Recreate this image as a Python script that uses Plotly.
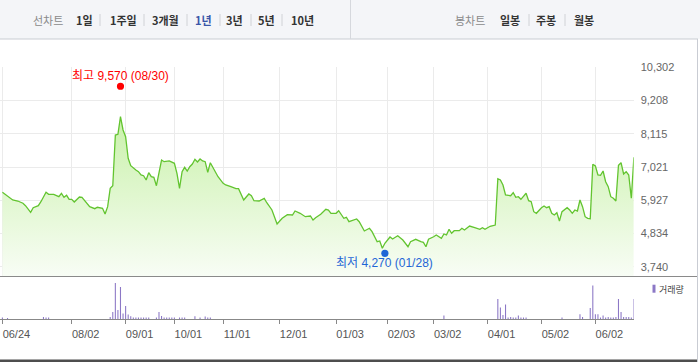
import plotly.graph_objects as go

# ---------------- data ----------------
# trading-day index (0 = 2021-06-24) and closing price vertices
price_idx = [0, 2, 4, 6, 8, 9, 11, 12, 14, 15, 17, 18, 20, 22, 23, 24, 25, 26, 27, 28, 30, 31, 34, 36, 37, 39, 40, 41,
             42, 43, 44, 45, 46, 47, 48, 49, 50, 52, 53, 54, 55, 56, 57, 58, 59, 60, 62, 63, 65, 67, 68, 69, 70, 71,
             72, 73, 74, 75, 76, 77, 78, 79, 80, 81, 83, 84, 86, 87, 89, 91, 92, 94, 96, 97, 98, 100, 102, 103, 105,
             107, 109, 111, 113, 114, 116, 118, 120, 121, 122, 124, 126, 127, 128, 130, 131, 133, 134, 135, 138, 139,
             141, 143, 144, 146, 147, 148, 149, 151, 152, 154, 156, 158, 159, 161, 163, 164, 165, 166, 168, 169, 171,
             172, 173, 174, 175, 176, 178, 179, 180, 182, 184, 186, 187, 188, 190, 192, 193, 194, 195, 196, 198, 199,
             200, 201, 202, 204, 205, 206, 207, 208, 210, 211, 212, 213, 214, 215, 216, 217, 218, 220, 221, 222, 223,
             224, 225, 226, 227, 228, 229, 230, 231, 232, 233, 234, 235, 236, 237, 238, 239, 240, 241, 242, 243, 244,
             245, 246]
price = [6189, 6067, 5935, 5902, 5827, 5748, 5530, 5682, 5748, 5879, 6189, 6123, 6123, 6044, 6156, 6024, 6090, 5958,
         5958, 5869, 6034, 6024, 5715, 5649, 5695, 5662, 5474, 5715, 6320, 6406, 8074, 8097, 8677, 8239, 8018, 7307,
         7064, 6922, 6866, 6758, 6735, 6593, 6833, 6702, 6682, 6406, 7251, 7196, 7219, 7143, 6814, 6320, 6866, 7011,
         6889, 7031, 7120, 7275, 7186, 7284, 7219, 7196, 6846, 7163, 6866, 6702, 6485, 6429, 6373, 6307, 6307, 5935,
         6133, 6077, 5912, 5902, 5991, 5846, 5606, 5145, 5333, 5451, 5441, 5573, 5497, 5386, 5409, 5277, 5353, 5464,
         5629, 5606, 5497, 5497, 5583, 5333, 5366, 5221, 5310, 5221, 4915, 5004, 4892, 4563, 4586, 4346, 4510, 4717,
         4652, 4760, 4619, 4398, 4563, 4642, 4563, 4543, 4398, 4642, 4727, 4783, 4675, 4816, 4783, 4971, 4839, 4925,
         4925, 5004, 4948, 5079, 5024, 4971, 5024, 4971, 5070, 5112, 6636, 6593, 6429, 6100, 6077, 6176, 6024, 6044,
         5958, 6156, 5912, 5879, 5550, 5497, 5682, 5738, 5682, 5715, 5497, 5441, 5517, 5244, 5550, 5682, 5606, 5497,
         5606, 5573, 5935, 5715, 5386, 5333, 5320, 7110, 7054, 6758, 6748, 6889, 6537, 6373, 6044, 5991, 5902, 7077,
         7163, 6791, 6866, 6758, 5991, 7340]

# traded volume (thousand shares)
vol_idx = [0, 2, 16, 17, 18, 42, 43, 44, 45, 46, 47, 48, 49, 50, 51, 52, 53, 54, 55, 56, 57, 60, 61, 62, 63, 64, 65, 66,
           67, 69, 70, 71, 75, 77, 79, 80, 81, 172, 193, 194, 195, 196, 197, 198, 199, 200, 201, 202, 203, 204, 218,
           225, 226, 229, 230, 231, 232, 233, 234, 235, 236, 237, 238, 239, 240, 241, 242, 243, 244, 245, 246]
volume = [170, 130, 230, 170, 170, 230, 730, 3630, 930, 3230, 570, 1330, 470, 300, 170, 170, 170, 170, 170, 170, 170,
          170, 730, 330, 170, 170, 170, 170, 170, 170, 170, 170, 300, 170, 270, 170, 170, 370, 2030, 1170, 430, 1470,
          170, 230, 170, 170, 370, 170, 170, 170, 170, 500, 230, 1130, 3370, 500, 500, 170, 370, 170, 230, 170, 170,
          230, 2030, 730, 230, 230, 230, 170, 2030]

# x-axis ticks (trading-day index of each labelled date)
tick_idx = [0, 27, 48, 67, 86, 108, 130, 150, 168, 189, 210, 231]
tick_labels = ["06/24", "08/02", "09/01", "10/01", "11/01", "12/01", "01/03", "02/03", "03/02", "04/01", "05/02", "06/02"]

# y-axis ticks
price_ticks = [3740, 4834, 5927, 7021, 8115, 9208, 10302]
price_tick_labels = ["3,740", "4,834", "5,927", "7,021", "8,115", "9,208", "10,302"]

# period extremes
high_idx, high_val, high_date = 46, 9570, "08/30"
low_idx, low_val, low_date = 149, 4270, "01/28"

# header menu
line_menu = ["1일", "1주일", "3개월", "1년", "3년", "5년", "10년"]
line_menu_x = [84, 123, 165, 203, 235, 266, 302]
candle_menu = ["일봉", "주봉", "월봉"]
candle_menu_x = [510, 546, 584]
active_item = "1년"

# ---------------- layout helpers ----------------
W, H = 700, 362
def px(x):
    return x / W
def py(y):
    return (H - y) / H

FONT = "Liberation Sans, Arial, Noto Sans CJK KR, sans-serif"
KFONT = "Noto Sans CJK KR, sans-serif"
HEADER_Y = 20
HEADER_BOTTOM = 39

fig = go.Figure()

fig.add_trace(go.Scatter(
    x=price_idx, y=price, mode="lines",
    line=dict(color="#62c42f", width=1.3),
    fill="tozeroy",
    fillgradient=dict(type="vertical", start=3434, stop=8700,
                      colorscale=[[0, "#f8fdf5"], [1, "#c9f1aa"]]),
    xaxis="x", yaxis="y", hoverinfo="skip", showlegend=False,
))

fig.add_trace(go.Bar(
    x=vol_idx, y=volume, width=0.42, marker=dict(color="#8c78c6", line=dict(width=0)),
    xaxis="x2", yaxis="y2", hoverinfo="skip", showlegend=False,
))

x_left = -2.4 / 2.567
x_right = (633.7 - 2.4) / 2.567
dom_x = [0, px(633.7)]

fig.update_layout(
    width=W, height=H, margin=dict(l=0, r=0, t=0, b=0, autoexpand=False),
    paper_bgcolor="white", plot_bgcolor="white",
    showlegend=False,
    xaxis=dict(domain=dom_x, range=[x_left, x_right], tickvals=tick_idx, showticklabels=False,
               showgrid=True, gridcolor="#ebebeb", gridwidth=1, zeroline=False, ticks="",
               anchor="y", automargin=False),
    yaxis=dict(domain=[py(276), py(67.3)], range=[3434, 10302], side="right",
               tickvals=price_ticks, ticktext=price_tick_labels,
               tickfont=dict(family=FONT, size=11, color="#666"),
               showgrid=True, gridcolor="#ebebeb", gridwidth=1, zeroline=False, ticks="",
               ticklabelstandoff=6, anchor="x", automargin=False),
    xaxis2=dict(domain=dom_x, range=[x_left, x_right], tickvals=tick_idx, ticktext=tick_labels,
                tickfont=dict(family=FONT, size=11, color="#555"),
                ticks="outside", ticklen=4, tickcolor="#888", tickwidth=1,
                showline=True, linecolor="#888", linewidth=1,
                showgrid=False, zeroline=False, ticklabelshift=14, anchor="y2", automargin=False),
    yaxis2=dict(domain=[py(319.3), py(277)], range=[0, 4230], showticklabels=False,
                showgrid=False, zeroline=False, ticks="", anchor="x2", automargin=False),
)

shapes = []
# header band
shapes.append(dict(type="rect", xref="paper", yref="paper", x0=0, x1=1, y0=py(HEADER_BOTTOM), y1=1,
                   fillcolor="#f4f5f8", line=dict(width=0), layer="below"))
shapes.append(dict(type="line", xref="paper", yref="paper", x0=0, x1=px(698), y0=py(HEADER_BOTTOM), y1=py(HEADER_BOTTOM),
                   line=dict(color="#c9ccd3", width=1)))
shapes.append(dict(type="line", xref="paper", yref="paper", x0=px(350.5), x1=px(350.5), y0=py(HEADER_BOTTOM), y1=1,
                   line=dict(color="#d6d8dd", width=1)))
# container right border
shapes.append(dict(type="line", xref="paper", yref="paper", x0=px(697.5), x1=px(697.5), y0=0, y1=py(HEADER_BOTTOM),
                   line=dict(color="#c9ccd3", width=1)))
# separators in the menu
for sx in [100, 144, 187, 220, 251, 282, 529, 565]:
    shapes.append(dict(type="line", xref="paper", yref="paper", x0=px(sx), x1=px(sx),
                       y0=py(HEADER_Y + 6), y1=py(HEADER_Y - 6),
                       line=dict(color="#d0d2d6", width=1)))
# bottom line of the price panel
shapes.append(dict(type="line", xref="paper", yref="paper", x0=0, x1=px(697), y0=py(276.5), y1=py(276.5),
                   line=dict(color="#8a8a8a", width=1)))
# bottom border
shapes.append(dict(type="line", xref="paper", yref="paper", x0=0, x1=px(697), y0=py(360.8), y1=py(360.8),
                   line=dict(color="#4d4d4d", width=2.5)))
# high / low dots
shapes.append(dict(type="circle", xref="x", yref="y", xsizemode="pixel", ysizemode="pixel",
                   xanchor=high_idx, yanchor=high_val, x0=-3.6, x1=3.6, y0=3.3 - 3.6, y1=3.3 + 3.6,
                   fillcolor="#ff0000", line=dict(width=0)))
shapes.append(dict(type="circle", xref="x", yref="y", xsizemode="pixel", ysizemode="pixel",
                   xanchor=low_idx, yanchor=low_val, x0=-3.6, x1=3.6, y0=-2.7 - 3.6, y1=-2.7 + 3.6,
                   fillcolor="#1f66d6", line=dict(width=0)))
# volume legend swatch
shapes.append(dict(type="rect", xref="paper", yref="paper", x0=px(652.5), x1=px(655.5), y0=py(292.7), y1=py(284.7),
                   fillcolor="#8c78c6", line=dict(width=0)))
fig.update_layout(shapes=shapes)

ann = []
ann.append(dict(x=high_idx, y=high_val, xref="x", yref="y", text=f"최고 {high_val:,} ({high_date})",
                showarrow=False, yshift=13.5, xanchor="center", yanchor="middle",
                font=dict(family=FONT, size=12, color="#ff0000")))
ann.append(dict(x=low_idx, y=low_val, xref="x", yref="y", text=f"최저 {low_val:,} ({low_date})",
                showarrow=False, yshift=-12.7, xanchor="center", yanchor="middle",
                font=dict(family=FONT, size=12, color="#1f66d6")))
# header texts
ann.append(dict(x=px(48), y=py(HEADER_Y), xref="paper", yref="paper", text="선차트", showarrow=False,
                xanchor="center", yanchor="middle",
                font=dict(family=KFONT, size=11, color="#8a8a8a")))
for t, xx in zip(line_menu, line_menu_x):
    col = "#3a56a8" if t == active_item else "#333333"
    ann.append(dict(x=px(xx), y=py(HEADER_Y), xref="paper", yref="paper", text=f"<b>{t}</b>", showarrow=False,
                    xanchor="center", yanchor="middle",
                    font=dict(family=KFONT, size=11, color=col)))
ann.append(dict(x=px(470), y=py(HEADER_Y), xref="paper", yref="paper", text="봉차트", showarrow=False,
                xanchor="center", yanchor="middle",
                font=dict(family=KFONT, size=11, color="#8a8a8a")))
for t, xx in zip(candle_menu, candle_menu_x):
    ann.append(dict(x=px(xx), y=py(HEADER_Y), xref="paper", yref="paper", text=f"<b>{t}</b>", showarrow=False,
                    xanchor="center", yanchor="middle",
                    font=dict(family=KFONT, size=11, color="#333333")))
# volume legend
ann.append(dict(x=px(657), y=py(289), xref="paper", yref="paper", text="거래량", showarrow=False,
                xanchor="left", yanchor="middle", font=dict(family=KFONT, size=9, color="#444")))
fig.update_layout(annotations=ann)

fig.write_html("out.html", config={"displayModeBar": False, "staticPlot": True},
               post_script="document.body.style.margin='0';document.body.style.overflow='hidden';")
